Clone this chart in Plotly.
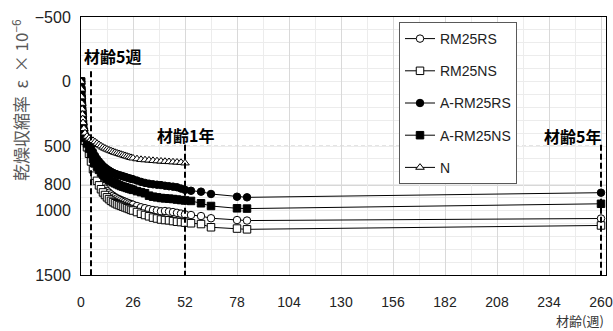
import plotly.graph_objects as go

# ---------------- data ----------------
weeks_first_year = [0, 0.14, 0.29, 0.43, 0.57, 0.71, 0.86, 1, 1.43, 2, 3, 4,
                    5, 6, 7, 8, 9, 10, 11, 12, 13, 14, 15, 16, 17, 18, 19, 20,
                    21, 22, 23, 24, 25, 26, 28, 30, 32, 34, 36, 38, 40, 42, 44,
                    46, 48, 50, 52]
weeks_long_term = [55, 60, 65, 78, 83, 260]

rm25rs = [0, 65, 130, 190, 240, 280, 315, 345, 400, 445, 490, 535,
          580, 630, 680, 720, 755, 785, 810, 830, 848, 862, 875, 886, 896, 905, 912, 919,
          926, 932, 938, 944, 950, 955, 965, 975, 982, 990, 996, 1000, 1006, 1004, 1008,
          1012, 1018, 1024, 1030,
          1035, 1043, 1060, 1074, 1078, 1062]
rm25ns = [0, 70, 140, 200, 250, 290, 325, 355, 410, 460, 510, 560,
          620, 680, 730, 770, 805, 835, 860, 880, 898, 912, 925, 935, 944, 952, 958, 964,
          970, 976, 982, 988, 995, 1000, 1012, 1025, 1035, 1045, 1055, 1062, 1070, 1074, 1076,
          1082, 1087, 1090, 1094,
          1099, 1105, 1130, 1140, 1146, 1116]
a_rm25rs = [0, 60, 120, 175, 220, 260, 295, 325, 375, 415, 450, 480,
            510, 545, 575, 600, 620, 638, 655, 668, 680, 690, 700, 708, 715, 720, 726, 730,
            735, 740, 745, 750, 754, 758, 768, 778, 786, 792, 797, 800, 803, 808, 812,
            815, 820, 830, 840,
            847, 854, 872, 893, 898, 862]
a_rm25ns = [0, 65, 130, 185, 230, 270, 305, 335, 390, 435, 480, 520,
            560, 600, 635, 660, 685, 705, 722, 737, 750, 762, 772, 781, 789, 796, 803, 810,
            815, 820, 825, 830, 835, 840, 850, 858, 866, 885, 893, 898, 903, 906, 908,
            911, 915, 919, 922,
            926, 944, 965, 983, 985, 948]
n_plain = [0, 60, 120, 170, 215, 255, 290, 320, 365, 400, 425, 440,
           450, 458, 468, 480, 490, 500, 510, 518, 525, 532, 538, 544, 550, 555, 560, 565,
           570, 575, 580, 585, 590, 594, 600, 605, 608, 610, 613, 616, 618, 620, 622,
           624, 626, 628, 632]

series_names = ["RM25RS", "RM25NS", "A-RM25RS", "A-RM25NS", "N"]

x_ticks = [0, 26, 52, 78, 104, 130, 156, 182, 208, 234, 260]
y_ticks = [-500, 0, 500, 800, 1000, 1500]
y_tick_text = ["\u2212500", "0", "500", "800", "1000", "1500"]

dashed_grid_levels = [0, 500, 1000]
solid_ref_level = 800

milestone_weeks = [5, 52, 260]
milestone_labels = ["材齢5週", "材齢1年", "材齢5年"]
milestone_top = [-80, 490, 490]
milestone_label_y = [-195, 415, 425]
milestone_label_x = [0.4, 52, 261]
milestone_anchor = ["left", "center", "right"]

# ---------------- figure ----------------
fig = go.Figure()

styles = [
    dict(symbol="circle", color="white"),
    dict(symbol="square", color="white"),
    dict(symbol="circle", color="black"),
    dict(symbol="square", color="black"),
    dict(symbol="triangle-up", color="white"),
]
data_y = [rm25rs, rm25ns, a_rm25rs, a_rm25ns, n_plain]

for name, ys, st in zip(series_names, data_y, styles):
    xs = weeks_first_year + (weeks_long_term if len(ys) > len(weeks_first_year) else [])
    fig.add_trace(go.Scatter(
        x=xs, y=ys, name=name, mode="lines+markers",
        legendgroup=name,
        line=dict(color="black", width=1),
        marker=dict(symbol=st["symbol"], size=7.5,
                    color=st["color"], line=dict(color="black", width=1)),
    ))

shapes = []
for lv in dashed_grid_levels:
    shapes.append(dict(type="line", xref="paper", x0=0, x1=1, yref="y", y0=lv, y1=lv,
                       line=dict(color="#c8c8c8", width=1, dash="4px,3px"), layer="below"))
shapes.append(dict(type="line", xref="paper", x0=0, x1=1, yref="y", y0=solid_ref_level,
                   y1=solid_ref_level, line=dict(color="#606060", width=1.3), layer="below"))
for wk, top in zip(milestone_weeks, milestone_top):
    shapes.append(dict(type="line", xref="x", x0=wk, x1=wk, yref="y", y0=top, y1=1500,
                       line=dict(color="black", width=2, dash="6px,3px"), layer="above"))

W, H = 613, 331
ml, mr, mt, mb = 81, 7, 17, 56
pw, ph = W - ml - mr, H - mt - mb

annotations = []
for lab, xx, yy, anc in zip(milestone_labels, milestone_label_x, milestone_label_y, milestone_anchor):
    annotations.append(dict(text="<b>" + lab + "</b>", x=xx, y=yy, xref="x", yref="y",
                            xanchor=anc, yanchor="middle", showarrow=False,
                            font=dict(size=16, color="black",
                                      family="Noto Sans CJK JP, Noto Sans, sans-serif")))
annotations.append(dict(text="乾燥収縮率  ε  × 10<sup>−6</sup>",
                        x=(20 - ml) / pw, y=(H - mb - 100) / ph, xref="paper",
                        yref="paper", showarrow=False, textangle=-90,
                        xanchor="center", yanchor="middle",
                        font=dict(size=17, color="#595959",
                                  family="Noto Sans CJK JP, sans-serif")))
annotations.append(dict(text="材齢(週)", x=(606 - ml) / pw, y=(H - mb - 320) / ph,
                        xref="paper", yref="paper", showarrow=False,
                        xanchor="right", yanchor="middle",
                        font=dict(size=13, color="#333333",
                                  family="Noto Sans CJK JP, sans-serif")))

fig.update_layout(
    width=W, height=H,
    margin=dict(l=ml, r=mr, t=mt, b=mb, autoexpand=False),
    paper_bgcolor="white", plot_bgcolor="white",
    font=dict(family="Liberation Sans, Arial, sans-serif", color="#333333"),
    shapes=shapes, annotations=annotations,
    showlegend=True,
    legend=dict(x=(399 - ml) / pw, y=(H - mb - 22) / ph, xanchor="left", yanchor="top",
                bgcolor="white", bordercolor="#595959", borderwidth=1,
                font=dict(size=14, color="#222222", family="Liberation Sans, Arial, sans-serif"),
                tracegroupgap=11, itemwidth=30),
)

fig.update_xaxes(
    range=[0, 262.5], tickvals=x_ticks, showline=True, linecolor="black", linewidth=1,
    mirror=True, showgrid=True, gridcolor="#d9d9d9", gridwidth=1, zeroline=False,
    ticks="", ticklabelstandoff=14, automargin=False,
    tickfont=dict(size=14, color="#222222", family="Liberation Sans, Arial, sans-serif"),
    minor=dict(dtick=13, tick0=0, showgrid=True, gridcolor="#ececec", gridwidth=1),
)
fig.update_yaxes(
    range=[1500, -500], tickvals=y_ticks, ticktext=y_tick_text, showline=True,
    linecolor="black", linewidth=1, mirror=True, showgrid=False, zeroline=False,
    ticks="", ticklabelstandoff=6, automargin=False,
    tickfont=dict(size=16, color="#222222", family="Liberation Sans, Arial, sans-serif"),
    minor=dict(dtick=100, tick0=0, showgrid=True, gridcolor="#ececec", gridwidth=1),
)

fig.write_html("out.html", config={"displayModeBar": False},
               post_script="document.body.style.margin='0';")
